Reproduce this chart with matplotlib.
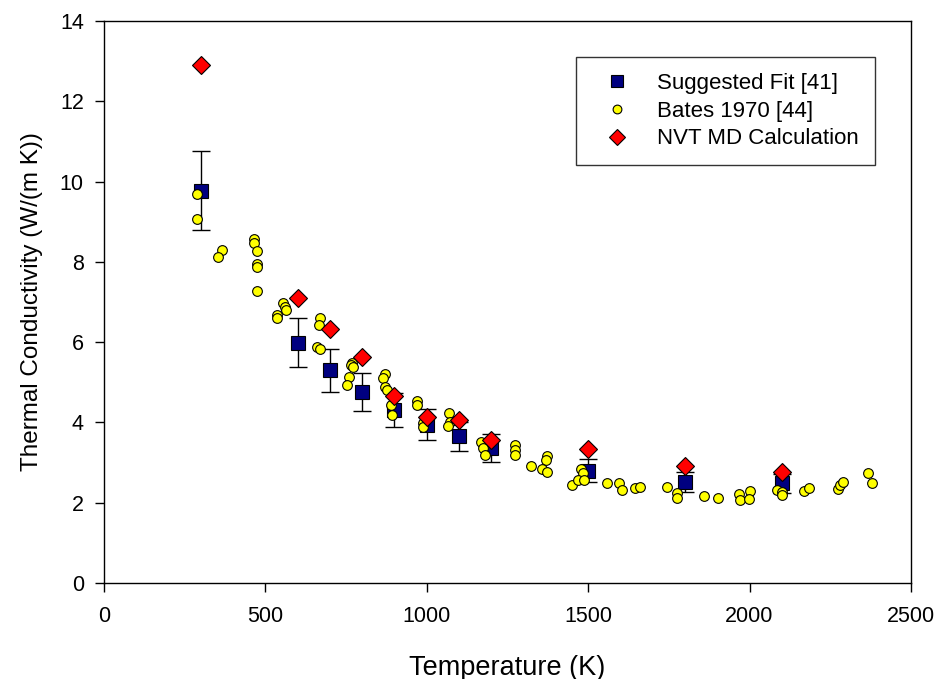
import numpy as np
import matplotlib
matplotlib.use('Agg')
import matplotlib.pyplot as plt

plt.rcParams['font.family'] = ['Liberation Sans', 'DejaVu Sans']

# Suggested fit [41]
fit_T = [300, 600, 700, 800, 900, 1000, 1100, 1200, 1500, 1800, 2100]
fit_k = [9.77, 5.99, 5.30, 4.75, 4.31, 3.94, 3.65, 3.36, 2.80, 2.51, 2.48]
fit_err = [0.98, 0.60, 0.53, 0.47, 0.43, 0.39, 0.37, 0.34, 0.28, 0.25, 0.24]

# Bates 1970 [44]
bates_T = [287, 287, 365, 354, 465, 465, 474, 473, 473, 475, 555, 562, 564, 536, 535,
           668, 667, 661, 669, 769, 765, 772, 758, 752, 870, 865, 870, 876, 888, 891,
           971, 971, 989, 989, 1070, 1072, 1065, 1168, 1175, 1180, 1273, 1273, 1273,
           1322, 1371, 1369, 1356, 1371, 1449, 1477, 1485, 1469, 1487, 1557, 1596, 1604,
           1645, 1660, 1745, 1774, 1774, 1860, 1903, 1968, 1970, 2001, 1999, 2086, 2099,
           2102, 2168, 2185, 2275, 2280, 2290, 2368, 2378]
bates_k = [9.69, 9.06, 8.30, 8.12, 8.56, 8.46, 8.27, 7.94, 7.87, 7.27, 6.98, 6.87, 6.80, 6.68, 6.59,
           6.61, 6.43, 5.87, 5.83, 5.49, 5.43, 5.37, 5.14, 4.92, 5.21, 5.11, 4.89, 4.81, 4.43, 4.19,
           4.54, 4.43, 3.98, 3.88, 4.24, 4.02, 3.90, 3.52, 3.36, 3.19, 3.44, 3.31, 3.19,
           2.92, 3.16, 3.06, 2.85, 2.77, 2.44, 2.85, 2.75, 2.57, 2.57, 2.48, 2.48, 2.32,
           2.36, 2.38, 2.38, 2.24, 2.11, 2.17, 2.11, 2.22, 2.07, 2.30, 2.08, 2.32, 2.26,
           2.19, 2.28, 2.36, 2.33, 2.44, 2.52, 2.73, 2.50]

# NVT MD calculation
md_T = [300, 600, 700, 800, 900, 1000, 1100, 1200, 1500, 1800, 2100]
md_k = [12.9, 7.11, 6.32, 5.64, 4.66, 4.13, 4.05, 3.55, 3.33, 2.91, 2.77]

fig = plt.figure(figsize=(9.4, 6.79), dpi=100)
ax = fig.add_axes([0.1106, 0.1414, 0.8585, 0.8277])

ax.errorbar(fit_T, fit_k, yerr=fit_err, fmt='none', ecolor='black', elinewidth=1.0,
            capsize=6.2, capthick=1.0, zorder=2)
ax.plot(fit_T, fit_k, 's', ms=9.4, mfc='#000080', mec='black', mew=0.8, ls='none',
        label='Suggested Fit [41]', zorder=3)
ax.plot(bates_T, bates_k, 'o', ms=7.0, mfc='#ffff00', mec='black', mew=0.8, ls='none',
        label='Bates 1970 [44]', zorder=4)
ax.plot(md_T, md_k, 'D', ms=9.5, mfc='#ff0000', mec='black', mew=0.8, ls='none',
        label='NVT MD Calculation', zorder=5)

ax.set_xlim(0, 2500)
ax.set_ylim(0, 14)
ax.set_xticks(np.arange(0, 2501, 500))
ax.set_yticks(np.arange(0, 15, 2))
ax.tick_params(direction='out', length=6.5, width=1.0, labelsize=15.5)
ax.tick_params(axis='x', pad=10)
ax.tick_params(axis='y', pad=8)
for s in ax.spines.values():
    s.set_linewidth(1.0)

ax.set_xlabel('Temperature (K)', fontsize=19.5, labelpad=20)
ax.set_ylabel('Thermal Conductivity (W/(m K))', fontsize=17.5, labelpad=12)

leg = ax.legend(loc='upper right', bbox_to_anchor=(0.955, 0.936), numpoints=1,
                fontsize=16, frameon=True, fancybox=False, borderpad=0.72,
                labelspacing=0.3, handlelength=2.25, handletextpad=0.68,
                borderaxespad=0.0, markerscale=0.9)
leg.get_frame().set_edgecolor('black')
leg.get_frame().set_linewidth(1.0)

fig.savefig('out.png', dpi=100)
